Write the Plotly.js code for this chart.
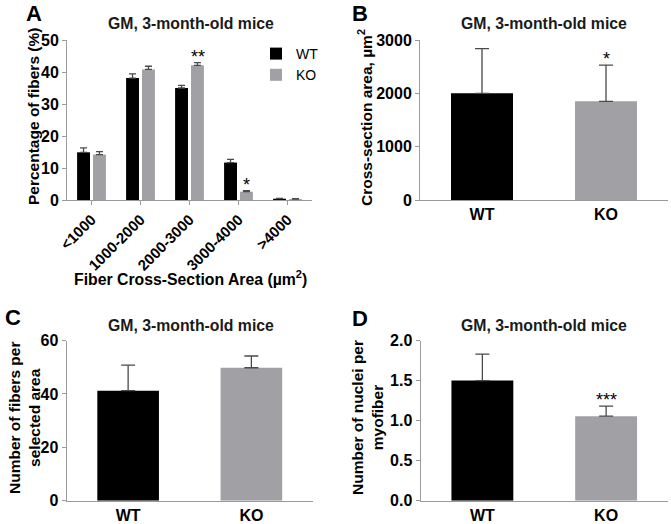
<!DOCTYPE html>
<html>
<head>
<meta charset="utf-8">
<script src="https://cdn.plot.ly/plotly-3.0.1.min.js"></script>
<style>html,body{margin:0;padding:0;background:#fff;}#chart{width:671px;height:524px;}</style>
</head>
<body>
<div id="chart"></div>
<script>
// ---- data ----
var sizeBins = ['<1000', '1000-2000', '2000-3000', '3000-4000', '>4000'];
var wtPct = [14.9, 38.1, 35.0, 11.7, 0.4];
var wtPctErr = [1.4, 1.3, 0.8, 1.0, 0.1];
var koPct = [14.2, 40.8, 42.1, 2.6, 0.3];
var koPctErr = [0.9, 1.0, 0.8, 0.3, 0.1];

var groups = ['WT', 'KO'];
var csaMean = [2000, 1850];
var csaErr = [840, 680];
var fiberCount = [41.2, 49.8];
var fiberCountErr = [9.6, 4.4];
var nucleiPerFiber = [1.50, 1.055];
var nucleiPerFiberErr = [0.33, 0.125];

var panelTitle = 'GM, 3-month-old mice';

// ---- styles ----
var FONT = 'Liberation Sans, Arial, sans-serif';
var BLACK = '#000000';
var GRAY = '#a0a0a5';
var ERRC = '#4a4a4a';
var AXC = '#9a9a9a';

function errY(arr, w) {
  return {type: 'data', array: arr, arrayminus: arr.map(function(){return 0;}), symmetric: false,
          color: ERRC, thickness: 1.3, width: w};
}

var traces = [
  {type: 'bar', name: 'WT', x: sizeBins, y: wtPct, xaxis: 'x', yaxis: 'y',
   marker: {color: BLACK}, error_y: errY(wtPctErr, 3.5)},
  {type: 'bar', name: 'KO', x: sizeBins, y: koPct, xaxis: 'x', yaxis: 'y',
   marker: {color: GRAY}, error_y: errY(koPctErr, 3.5)},
  {type: 'bar', x: groups, y: csaMean, xaxis: 'x2', yaxis: 'y2', width: 0.5, showlegend: false,
   marker: {color: [BLACK, GRAY]}, error_y: errY(csaErr, 7)},
  {type: 'bar', x: groups, y: fiberCount, xaxis: 'x3', yaxis: 'y3', width: 0.5, showlegend: false,
   marker: {color: [BLACK, GRAY]}, error_y: errY(fiberCountErr, 7)},
  {type: 'bar', x: groups, y: nucleiPerFiber, xaxis: 'x4', yaxis: 'y4', width: 0.5, showlegend: false,
   marker: {color: [BLACK, GRAY]}, error_y: errY(nucleiPerFiberErr, 7)}
];

var W = 671, H = 524;
function px(x) { return x / W; }
function py(y) { return (H - y) / H; }

var tickFont = {family: FONT, size: 16, color: '#000', weight: 'bold'};
function xAxis(dom, anchor, extra) {
  var a = {domain: dom, anchor: anchor, showline: true, linecolor: AXC, linewidth: 1,
    ticks: '', showgrid: false, zeroline: false,
    tickfont: tickFont, automargin: false, fixedrange: true, range: [-0.5, 1.5]};
  for (var k in extra) a[k] = extra[k];
  return a;
}
function yAxis(dom, anchor, range, dtick) {
  return {domain: dom, anchor: anchor, range: range, dtick: dtick, tick0: 0,
    showline: true, linecolor: AXC, linewidth: 1, ticks: 'outside', ticklen: 4, tickcolor: AXC,
    showgrid: false, zeroline: false, tickfont: tickFont, automargin: false, fixedrange: true};
}

var topDom = [py(200), py(40)];
var botDom = [py(500.7), py(340.5)];

var layout = {
  width: W, height: H,
  margin: {l: 0, r: 0, t: 0, b: 0},
  paper_bgcolor: '#fff', plot_bgcolor: '#fff',
  font: {family: FONT, color: '#000'},
  barmode: 'group', bargap: 0.35, bargroupgap: 0.19,
  showlegend: true,
  legend: {x: px(256), y: py(38), xanchor: 'left', yanchor: 'top', bgcolor: 'rgba(0,0,0,0)',
           font: {family: FONT, size: 14, color: '#000'}, tracegroupgap: 0, itemsizing: 'constant'},
  xaxis: xAxis([px(67), px(312)], 'y', {range: [-0.5, 4.5], tickangle: -45,
           ticks: 'outside', ticklen: 4, tickcolor: AXC,
           tickfont: {family: FONT, size: 15, color: '#000', weight: 'bold'}}),
  yaxis: yAxis(topDom, 'x', [0, 50], 10),
  xaxis2: xAxis([px(420), px(668)], 'y2', {}),
  yaxis2: yAxis(topDom, 'x2', [0, 3000], 1000),
  xaxis3: xAxis([px(66.5), px(313)], 'y3', {}),
  yaxis3: yAxis(botDom, 'x3', [0, 60], 20),
  xaxis4: xAxis([px(420.5), px(668)], 'y4', {}),
  yaxis4: yAxis(botDom, 'x4', [0, 2], 0.5),
  annotations: []
};
layout.yaxis4.tickformat = '.1f';

var ann = layout.annotations;
function paperText(text, x, y, size, opts) {
  var a = {xref: 'paper', yref: 'paper', x: px(x), y: py(y), text: text, showarrow: false,
    xanchor: 'center', yanchor: 'middle', borderpad: 0, font: {family: FONT, size: size, color: '#000'}};
  for (var k in opts) a[k] = opts[k];
  ann.push(a);
}
// panel letters
paperText('<b>A</b>', 34, 13.5, 22);
paperText('<b>B</b>', 360, 13.5, 22);
paperText('<b>C</b>', 12.5, 317, 22);
paperText('<b>D</b>', 360, 318, 22);
// titles
var tf = {family: FONT, size: 15.8, color: '#1a1a1a'};
paperText('<b>' + panelTitle + '</b>', 191, 24, 15.8, {font: tf});
paperText('<b>' + panelTitle + '</b>', 544, 24, 15.8, {font: tf});
paperText('<b>' + panelTitle + '</b>', 191, 325, 15.8, {font: tf});
paperText('<b>' + panelTitle + '</b>', 544, 325, 15.8, {font: tf});
// axis titles
paperText('<b>Percentage of fibers (%)</b>', 33, 117, 15.5, {textangle: -90});
paperText('<b>Fiber Cross-Section Area (µm<sup>2</sup>)</b>', 191, 278, 15.8);
paperText('<b>Cross-section area, µm<sup>2</sup></b>', 365, 118, 15.5, {textangle: -90});
paperText('<b>Number of fibers per<br>selected area</b>', 25, 418, 15.5, {textangle: -90});
paperText('<b>Number of nuclei per<br>myofiber</b>', 368, 418, 15.5, {textangle: -90});

// significance marks
function star(text, xref, yref, xcat, yval, xshift) {
  ann.push({xref: xref, yref: yref, x: xcat, y: yval, text: text, showarrow: false,
    xanchor: 'center', yanchor: 'bottom', xshift: xshift || 0, yshift: -6,
    font: {family: FONT, size: 18, color: '#000'}});
}
star('**', 'x', 'y', sizeBins[2], koPct[2] + koPctErr[2], 8);
star('*', 'x', 'y', sizeBins[3], koPct[3] + koPctErr[3], 8);
star('*', 'x2', 'y2', groups[1], csaMean[1] + csaErr[1], 0);
star('***', 'x4', 'y4', groups[1], nucleiPerFiber[1] + nucleiPerFiberErr[1], 0);

Plotly.newPlot('chart', traces, layout, {staticPlot: true, displayModeBar: false});
</script>
</body>
</html>
